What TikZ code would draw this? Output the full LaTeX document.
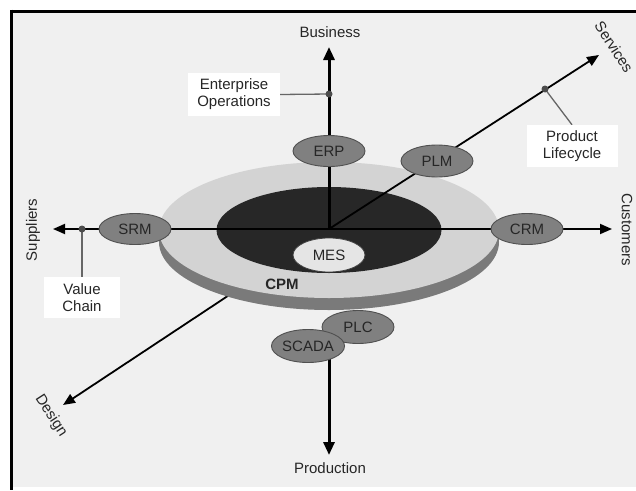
\documentclass[tikz,border=0pt]{standalone}
\usepackage{fontspec}
\setmainfont{Liberation Sans}
\usetikzlibrary{arrows.meta,shapes.geometric}
\pgfdeclarelayer{sheet}
\pgfdeclarelayer{back}
\pgfdeclarelayer{disk}
\pgfdeclarelayer{mid}
\pgfsetlayers{sheet,back,disk,mid,main}
\definecolor{paper}{HTML}{F0F0F0}
\definecolor{ringlight}{HTML}{D3D3D3}
\definecolor{ringside}{HTML}{7A7A7A}
\definecolor{core}{HTML}{272727}
\definecolor{sysfill}{HTML}{808080}
\definecolor{sysedge}{HTML}{505050}
\tikzset{
  txt/.style={font=\fontsize{15}{17}\selectfont, text=black!85},
  sys/.style={ellipse, draw=sysedge, line width=0.9pt, fill=sysfill,
    minimum width=72pt, minimum height=31pt, inner sep=0pt, txt},
  callout/.style={fill=white, align=center, inner sep=0pt, txt},
  hub/.style={circle, fill=black!70, minimum size=7pt, inner sep=0pt},
  axisthick/.style={line width=3pt, -{Triangle[length=13pt,width=11pt]}},
  axisthin/.style={line width=1.8pt, -{Triangle[length=12pt,width=10pt]}},
  leader/.style={line width=1.3pt, draw=black!60},
}
\begin{document}
\begin{tikzpicture}[x=1pt,y=-1pt]
\useasboundingbox (0,0) rectangle (636,490);
\begin{pgfonlayer}{sheet}
  \fill[white] (0,0) rectangle (636,490);
  \fill[paper] (12,12) rectangle (636,487);
  \draw[line width=3pt] (10.5,11) -- (636,11);
  \draw[line width=2.5pt] (11.5,9.5) -- (11.5,490);
\end{pgfonlayer}

% centre of the axes
\coordinate (c) at (329,229);

% axis end points
\coordinate (busTip) at (329,47);
\coordinate (prodTip) at (329,455);
\coordinate (supTip) at (53,229);
\coordinate (cusTip) at (612,229);
\coordinate (serTip) at (599,55);
\coordinate (desTip) at (63,405);

% axis names
\node[txt] (business) at (330,32) {Business};
\node[txt] (production) at (330,468) {Production};
\node[txt, rotate=90] (suppliers) at (33,230) {Suppliers};
\node[txt, rotate=-90] (customers) at (627,230) {Customers};
\node[txt, rotate=-57] (services) at (614,47) {Services};
\node[txt, rotate=-57] (design) at (51,416) {Design};

% the platform disk
\begin{pgfonlayer}{disk}
  \node[ellipse, fill=ringside, minimum width=340pt, minimum height=136pt] (side) at (329,242) {};
  \node[ellipse, fill=ringlight, minimum width=340pt, minimum height=136pt] (cpmring) at (329,230) {};
  \node[ellipse, fill=core, minimum width=225pt, minimum height=86pt] (inner) at (329,230) {};
  \node[txt, font=\fontsize{15}{17}\selectfont\bfseries] (cpm) at (282,284) {CPM};
\end{pgfonlayer}

% systems round the disk
\node[sys] (erp) at (329,151) {ERP};
\node[sys, minimum height=32pt] (plm) at (437,161) {PLM};
\node[sys] (srm) at (135,229) {SRM};
\node[sys] (crm) at (527,229) {CRM};
\node[sys, minimum height=33pt] (plc) at (358,327) {PLC};
\node[sys, minimum height=33pt] (scada) at (308,346) {SCADA};
\node[ellipse, draw=black!75, line width=0.8pt, fill=black!10,
  minimum width=72pt, minimum height=34pt, inner sep=0pt, txt] (mes) at (329,255) {MES};

% axes
\begin{pgfonlayer}{back}
  \draw[axisthin] (c) -- (desTip);
  \draw[axisthick] (scada.center -| c) -- (prodTip);
\end{pgfonlayer}
\begin{pgfonlayer}{mid}
  \draw[axisthick] (c) -- (busTip);
  \draw[axisthin] (c) -- (serTip);
  \draw[axisthin] (c) -- (supTip);
  \draw[axisthin] (c) -- (cusTip);
\end{pgfonlayer}

% call-outs
\node[hub] (opsDot) at (329,94) {};
\node[hub] (chainDot) at (82,229) {};
\node[hub] (lifeDot) at (545,89) {};
\node[callout, minimum width=92pt, minimum height=43pt] (ops) at (234,94.5) {Enterprise\\Operations};
\node[callout, minimum width=76pt, minimum height=41pt] (chain) at (82,297.5) {Value\\Chain};
\node[callout, minimum width=91pt, minimum height=42pt] (life) at (572,146) {Product\\Lifecycle};
\begin{pgfonlayer}{mid}
  \draw[leader] (ops.east) -- (opsDot.center);
  \draw[leader] (chain.north) -- (chainDot.center);
  \draw[leader] (life.north) -- (lifeDot.center);
\end{pgfonlayer}
\end{tikzpicture}
\end{document}
